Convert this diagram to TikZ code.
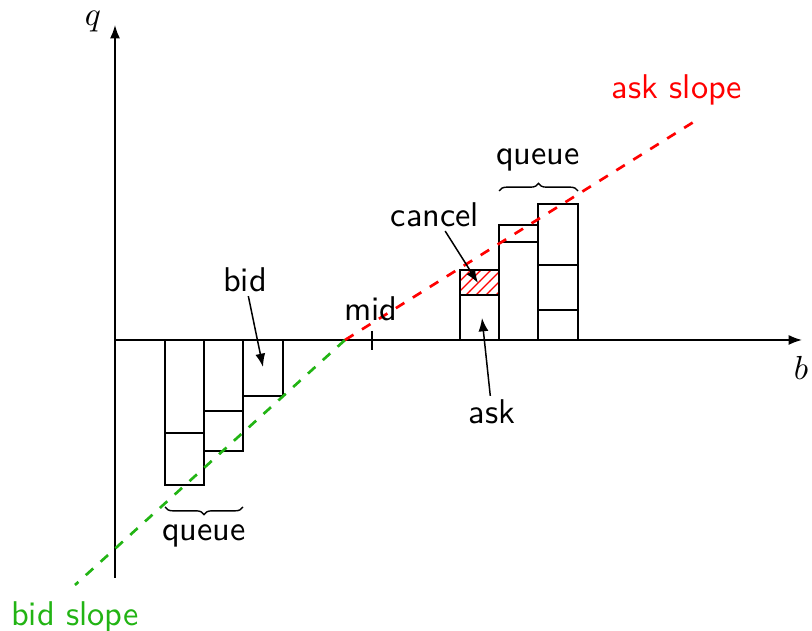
\documentclass[tikz,border=0pt]{standalone}
\usetikzlibrary{arrows.meta,patterns,decorations.pathreplacing}
\definecolor{bidgreen}{RGB}{34,180,20}
\begin{document}
\begin{tikzpicture}[x=0.3pt,y=-0.3pt,
  axis/.style={line width=0.5pt,-{Latex[length=4pt,width=3pt]}},
  bar/.style={draw,line width=0.42pt},
  slopeask/.style={red,dashed,line width=0.8pt},
  slopebid/.style={bidgreen,dashed,line width=0.8pt},
  lbl/.style={font=\sffamily\fontsize{10.3}{12}\selectfont,inner sep=1pt},
  pointer/.style={line width=0.45pt,-{Latex[length=4pt,width=3pt]}},
  qbrace/.style={decorate,decoration={brace,amplitude=2.3pt},line width=0.42pt}]
\useasboundingbox (0,0) rectangle (812,631);
% axes
\coordinate (O) at (115,340);
\coordinate (ytop) at (115,25);
\coordinate (ybot) at (115,578);
\coordinate (xend) at (802,340);
\draw[axis] (ybot) -- (ytop);
\draw[axis] (O) -- (xend);
\node (q) at (93,22) {$q$};
\node (b) at (801,368) {$b$};
% bid bars
\draw[bar] (165,340) rectangle (204,485);
\draw[bar] (165,433) -- (204,433);
\draw[bar] (204,340) rectangle (243,451);
\draw[bar] (204,411) -- (243,411);
\draw[bar] (243,340) rectangle (283,396);
% ask bars
\fill[pattern=north east lines,pattern color=red] (460,270) rectangle (499,295);
\draw[bar] (460,340) rectangle (499,270);
\draw[bar] (460,295) -- (499,295);
\draw[bar] (499,340) rectangle (538,225);
\draw[bar] (499,242) -- (538,242);
\draw[bar] (538,340) rectangle (578,204);
\draw[bar] (538,265) -- (578,265);
\draw[bar] (538,310) -- (578,310);
% slopes
\coordinate (mid) at (345,340);
\coordinate (askend) at (700,118);
\coordinate (bidend) at (75,585);
\draw[slopebid] (mid) -- (bidend);
\draw[slopeask] (mid) -- (askend);
% mid tick
\draw[line width=0.45pt] (372,331) -- (372,350);
\node[lbl] (midlbl) at (371,309) {mid};
% braces
\draw[qbrace] (243,507) -- (165,507);
\node[lbl] (bq) at (204,536) {queue};
\draw[qbrace] (499,191) -- (578,191);
\node[lbl] (aq) at (538,160) {queue};
% labels & pointers
\node[lbl] (bidlbl) at (245,280) {bid};
\coordinate (bidpt) at (263,367);
\draw[pointer] (bidlbl) -- (bidpt);
\node[lbl] (cancellbl) at (435,215) {cancel};
\coordinate (cancelpt) at (478,283);
\draw[pointer] (cancellbl) -- (cancelpt);
\node[lbl] (asklbl) at (492,412) {ask};
\coordinate (askpt) at (482,318);
\draw[pointer] (asklbl) -- (askpt);
\node[lbl,red] (askslope) at (677,90) {ask slope};
\node[lbl,bidgreen] (bidslope) at (75,617) {bid slope};
\end{tikzpicture}
\end{document}
